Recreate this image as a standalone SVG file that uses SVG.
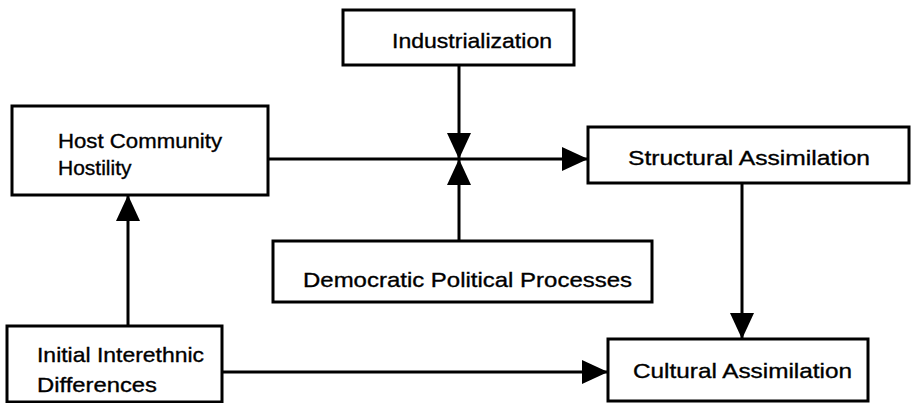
<svg xmlns="http://www.w3.org/2000/svg" width="911" height="403" viewBox="0 0 911 403">
<style>
.box{fill:#fff;stroke:#000;stroke-width:3}
.lbl{font-family:"Liberation Sans",Arial,sans-serif;font-size:21px;fill:#000;stroke:#000;stroke-width:0.35}
.edge{stroke:#000;stroke-width:3;fill:none;marker-end:url(#ah)}
</style>
<defs>
<marker id="ah" markerUnits="userSpaceOnUse" markerWidth="27" markerHeight="26" refX="26" refY="13" orient="auto">
<path d="M0,1 L26,13 L0,25 Z" fill="#000"/>
</marker>
</defs>
<rect width="911" height="403" fill="#fff"/>
<g id="connectors">
<path class="edge" d="M459,65 V159"/>
<path class="edge" d="M459,241 V159"/>
<path class="edge" d="M268,159 H588"/>
<path class="edge" d="M128,326 V195"/>
<path class="edge" d="M742,183 V339"/>
<path class="edge" d="M222,372 H608"/>
</g>
<g id="industrialization">
<rect class="box" x="343" y="10" width="231" height="55"/>
<text class="lbl" x="392" y="48" textLength="160" lengthAdjust="spacingAndGlyphs">Industrialization</text>
</g>
<g id="host-community-hostility">
<rect class="box" x="12" y="106" width="256" height="89"/>
<text class="lbl" x="58" y="148" textLength="164" lengthAdjust="spacingAndGlyphs">Host Community</text>
<text class="lbl" x="58" y="175">Hostility</text>
</g>
<g id="structural-assimilation">
<rect class="box" x="588" y="127" width="321" height="56"/>
<text class="lbl" x="628" y="165" textLength="242" lengthAdjust="spacingAndGlyphs">Structural Assimilation</text>
</g>
<g id="democratic-political-processes">
<rect class="box" x="273" y="241" width="379" height="61"/>
<text class="lbl" x="303" y="287" textLength="329" lengthAdjust="spacingAndGlyphs">Democratic Political Processes</text>
</g>
<g id="initial-interethnic-differences">
<rect class="box" x="7" y="326" width="215" height="76"/>
<text class="lbl" x="37" y="362" textLength="167" lengthAdjust="spacingAndGlyphs">Initial Interethnic</text>
<text class="lbl" x="37" y="392" textLength="120" lengthAdjust="spacingAndGlyphs">Differences</text>
</g>
<g id="cultural-assimilation">
<rect class="box" x="608" y="339" width="260" height="62"/>
<text class="lbl" x="633" y="378" textLength="219" lengthAdjust="spacingAndGlyphs">Cultural Assimilation</text>
</g>
</svg>
